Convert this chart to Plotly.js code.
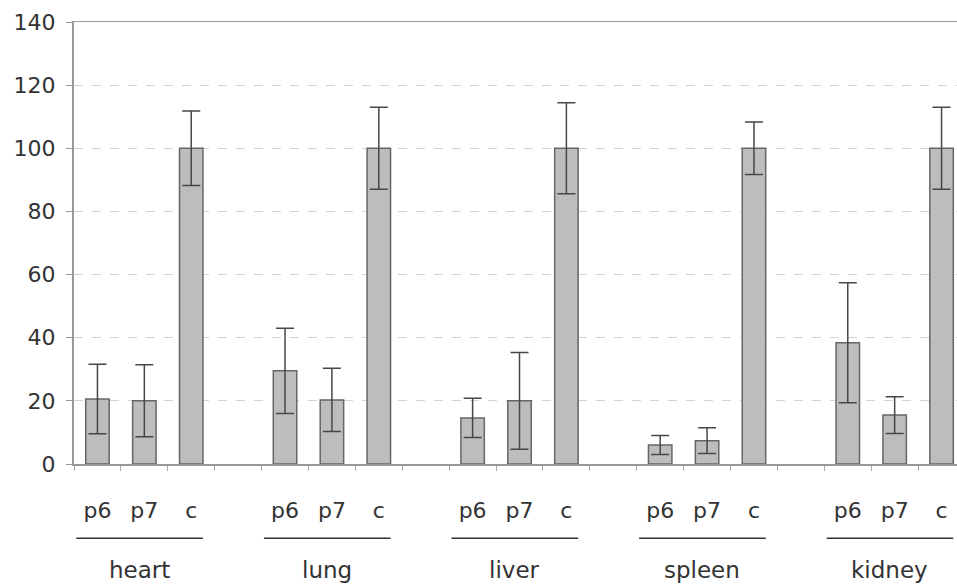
<!DOCTYPE html>
<html>
<head>
<meta charset="utf-8">
<script src="https://cdn.plot.ly/plotly-3.0.1.min.js"></script>
<style>html,body{margin:0;padding:0;overflow:hidden;background:#fff;}#chart{width:966px;height:585px;}</style>
</head>
<body>
<div id="chart"></div>
<script>
// Data
const groups = ["heart", "lung", "liver", "spleen", "kidney"];
const subcats = ["p6", "p7", "c"];
const values = [
  [20.6, 20.0, 100],   // heart
  [29.5, 20.3, 100],   // lung
  [14.6, 20.0, 100],   // liver
  [6.0, 7.4, 100],     // spleen
  [38.4, 15.5, 100]    // kidney
];
const errors = [
  [11.0, 11.4, 11.8],
  [13.5, 10.0, 13.0],
  [6.2, 15.3, 14.4],
  [3.0, 4.1, 8.3],
  [19.0, 5.8, 13.0]
];
const yTicks = [0, 20, 40, 60, 80, 100, 120, 140];

// Build positions: 3 bars per group + one empty slot between groups
const xs = [], ys = [], es = [], tickvals = [], ticktext = [];
const shapes = [], annotations = [];
groups.forEach((g, gi) => {
  const start = gi * 4;
  subcats.forEach((s, si) => {
    xs.push(start + si);
    ys.push(values[gi][si]);
    es.push(errors[gi][si]);
    tickvals.push(start + si);
    ticktext.push(s);
  });
  shapes.push({type: 'line', xref: 'x', yref: 'paper', x0: start - 0.45, x1: start + 2.25,
    y0: -0.168, y1: -0.168, line: {color: '#333', width: 1.5}});
  annotations.push({xref: 'x', yref: 'paper', x: start + 0.9, y: -0.24, text: g,
    showarrow: false, xanchor: 'center', yanchor: 'middle',
    font: {family: 'DejaVu Sans, Verdana, sans-serif', size: 23, color: '#333'}});
});

const trace = {
  type: 'bar', x: xs, y: ys, width: 0.5,
  marker: {color: '#bdbdbd', line: {color: '#666', width: 1.5}},
  error_y: {type: 'data', array: es, visible: true, color: '#474747', thickness: 1.5, width: 9},
  hoverinfo: 'skip'
};

const layout = {
  width: 966, height: 585,
  margin: {l: 74, r: 1, t: 22, b: 121},
  paper_bgcolor: '#fff', plot_bgcolor: '#fff',
  showlegend: false,
  font: {family: 'DejaVu Sans, Verdana, sans-serif', size: 22, color: '#333'},
  xaxis: {
    range: [-0.5, 18.5], tickvals: tickvals, ticktext: ticktext,
    ticks: '', ticklen: 0, showgrid: false, zeroline: false,
    showline: true, linecolor: '#999', linewidth: 1.5, mirror: true,
    tickfont: {size: 22, color: '#333'}, ticklabelstandoff: 26,
    minor: {tick0: -0.5, dtick: 1, ticks: 'outside', ticklen: 5, tickcolor: '#aaa', showgrid: false}
  },
  yaxis: {
    range: [0, 140], tickvals: yTicks, ticks: 'outside', ticklen: 6, tickcolor: '#999',
    showline: true, linecolor: '#999', linewidth: 2,
    showgrid: true, gridcolor: '#d3d3d3', griddash: 'dash', gridwidth: 1,
    zeroline: false, tickfont: {size: 22, color: '#333'}, ticklabelstandoff: 6
  },
  shapes: shapes, annotations: annotations
};

Plotly.newPlot('chart', [trace], layout, {staticPlot: true, displayModeBar: false});
</script>
</body>
</html>
